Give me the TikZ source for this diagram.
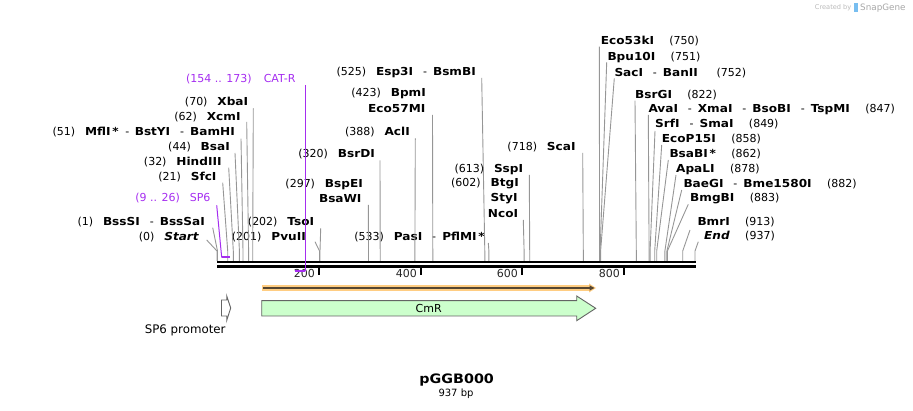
\documentclass[tikz,border=0pt]{standalone}
\usepackage{fontspec}
\setmainfont{DejaVu Sans}[BoldFeatures={FakeStretch=1.1},BoldItalicFeatures={FakeStretch=1.1}]
\usetikzlibrary{arrows.meta}
\definecolor{primer}{RGB}{165,45,240}
\definecolor{cutline}{RGB}{150,150,150}
\definecolor{cmrfill}{RGB}{204,255,204}
\definecolor{featedge}{RGB}{100,100,100}
\definecolor{orffill}{RGB}{255,205,130}
\definecolor{orfline}{RGB}{85,70,50}
\definecolor{wmark}{RGB}{185,185,185}
\definecolor{snaplogo}{RGB}{120,190,240}
\newcommand*{\enz}[1]{\textbf{#1}}
\newcommand*{\pgap}{\hspace{0.9em}}
\newcommand*{\rgap}{\hspace{1.4em}}
\newcommand*{\orsep}{\hspace{0.9em}-\hspace{0.55em}}

\begin{document}
\begin{tikzpicture}[x=1pt,y=-1pt,
  every node/.style={inner sep=0pt,font=\fontsize{11}{13}\selectfont},
  cut/.style={draw=cutline,line width=0.9pt},
  primerline/.style={draw=primer,line width=1pt},
  primerbar/.style={draw=primer,line width=2pt}]
\useasboundingbox (0,0) rectangle (913,411);

\node[anchor=east,font=\fontsize{6.6}{8}\selectfont,text=wmark] (made) at (851.5,8) {Created by};
\fill[snaplogo] (853.5,3.5) rectangle (857.5,12.5);
\node[anchor=west,font=\fontsize{8.8}{10}\selectfont,text=wmark!90!black] (snap) at (860,8) {SnapGene};

\draw[line width=2.3pt] (217,262.2) -- (696,262.2);
\draw[line width=2.3pt] (217,266.5) -- (696,266.5);

\draw[line width=1.3pt] (319,267.5) -- (319,275);
\draw[line width=1.3pt] (421,267.5) -- (421,275);
\draw[line width=1.3pt] (522,267.5) -- (522,275);
\draw[line width=1.3pt] (624,267.5) -- (624,275);
\node[anchor=east,text=black!85] (t200) at (315,273.3) {200};
\node[anchor=east,text=black!85] (t400) at (417,273.3) {400};
\node[anchor=east,text=black!85] (t600) at (518,273.3) {600};
\node[anchor=east,text=black!85] (t800) at (620,273.3) {800};

\coordinate (s0) at (217,261);
\coordinate (s1) at (217.5,261);
\coordinate (s21) at (227.7,261);
\coordinate (s32) at (233.3,261);
\coordinate (s44) at (239.4,261);
\coordinate (s51) at (243.0,261);
\coordinate (s62) at (248.6,261);
\coordinate (s70) at (252.7,261);
\coordinate (s201) at (319.5,261);
\coordinate (s202) at (320.0,261);
\coordinate (s297) at (368.5,261);
\coordinate (s320) at (380.2,261);
\coordinate (s388) at (414.9,261);
\coordinate (s423) at (432.8,261);
\coordinate (s525) at (484.8,261);
\coordinate (s533) at (488.9,261);
\coordinate (s602) at (524.1,261);
\coordinate (s613) at (529.7,261);
\coordinate (s718) at (583.3,261);
\coordinate (s750) at (599.6,261);
\coordinate (s751) at (600.1,261);
\coordinate (s752) at (600.6,261);
\coordinate (s822) at (636.3,261);
\coordinate (s847) at (649.1,261);
\coordinate (s849) at (650.1,261);
\coordinate (s858) at (654.7,261);
\coordinate (s862) at (656.7,261);
\coordinate (s878) at (664.9,261);
\coordinate (s882) at (666.9,261);
\coordinate (s883) at (667.4,261);
\coordinate (s913) at (682.7,261);
\coordinate (s937) at (695.0,261);
\coordinate (p9) at (221.7,257.5);
\coordinate (p26) at (229.5,257.5);
\coordinate (p154) at (295.0,270.7);
\coordinate (p173) at (305.3,270.7);

\node[anchor=east,text=primer] (catr) at (295.7,79) {(154 .. 173)\hspace{1.1em}CAT-R};
\node[anchor=east] (xbai) at (248.3,102.3) {(70)\pgap\enz{XbaI}};
\node[anchor=east] (xcmi) at (240.7,117) {(62)\pgap\enz{XcmI}};
\node[anchor=east] (mfli) at (235,131.7) {(51)\pgap\enz{MflI\,*}\hspace{0.6em}-\hspace{0.5em}\enz{BstYI}\orsep\enz{BamHI}};
\node[anchor=east] (bsai) at (230,147) {(44)\pgap\enz{BsaI}};
\node[anchor=east] (hindiii) at (221.7,161.7) {(32)\pgap\enz{HindIII}};
\node[anchor=east] (sfci) at (216.7,176.7) {(21)\pgap\enz{SfcI}};
\node[anchor=east,text=primer] (sp6) at (210.7,198.3) {(9 .. 26)\pgap SP6};
\node[anchor=east] (bsssi) at (205,222.3) {(1)\pgap\enz{BssSI}\orsep\enz{BssSaI}};
\node[anchor=east] (start) at (199.3,236.7) {(0)\pgap\textbf{\textit{Start}}};
\node[anchor=east] (tsoi) at (314.3,222.3) {(202)\pgap\enz{TsoI}};
\node[anchor=east] (pvuii) at (306,236.7) {(201)\pgap\enz{PvuII}};
\node[anchor=east] (bsrdi) at (375,154.3) {(320)\pgap\enz{BsrDI}};
\node[anchor=east] (bspei) at (363,184) {(297)\pgap\enz{BspEI}};
\node[anchor=east] (bsawi) at (361.7,198.3) {\enz{BsaWI}};
\node[anchor=east] (acli) at (410,131.7) {(388)\pgap\enz{AclI}};
\node[anchor=east] (bpmi) at (426,93.3) {(423)\pgap\enz{BpmI}};
\node[anchor=east] (eco57mi) at (425.5,109) {\enz{Eco57MI}};
\node[anchor=east] (esp3i) at (476,72.3) {(525)\pgap\enz{Esp3I}\orsep\enz{BsmBI}};
\node[anchor=east] (pasi) at (485,236.7) {(533)\pgap\enz{PasI}\orsep\enz{PflMI\,*}};
\node[anchor=east] (sspi) at (523.3,169) {(613)\pgap\enz{SspI}};
\node[anchor=east] (btgi) at (519,184) {(602)\pgap\enz{BtgI}};
\node[anchor=east] (styi) at (517.8,199) {\enz{StyI}};
\node[anchor=east] (ncoi) at (518.3,213.3) {\enz{NcoI}};
\node[anchor=east] (scai) at (575.7,147.3) {(718)\pgap\enz{ScaI}};

\node[anchor=west] (eco53ki) at (600.7,41) {\enz{Eco53kI}\rgap(750)};
\node[anchor=west] (bpu10i) at (607.3,57.3) {\enz{Bpu10I}\rgap(751)};
\node[anchor=west] (saci) at (614.3,72.7) {\enz{SacI}\orsep\enz{BanII}\hspace{1.7em}(752)};
\node[anchor=west] (bsrgi) at (635,95) {\enz{BsrGI}\rgap(822)};
\node[anchor=west] (avai) at (648.3,109.3) {\enz{AvaI}\orsep\enz{XmaI}\orsep\enz{BsoBI}\orsep\enz{TspMI}\rgap(847)};
\node[anchor=west] (srfi) at (655,124) {\enz{SrfI}\orsep\enz{SmaI}\rgap(849)};
\node[anchor=west] (ecop15i) at (661.7,139.3) {\enz{EcoP15I}\rgap(858)};
\node[anchor=west] (bsabi) at (669.3,154) {\enz{BsaBI\,*}\rgap(862)};
\node[anchor=west] (apali) at (676,169) {\enz{ApaLI}\rgap(878)};
\node[anchor=west] (baegi) at (683.3,184) {\enz{BaeGI}\orsep\enz{Bme1580I}\rgap(882)};
\node[anchor=west] (bmgbi) at (690,198.7) {\enz{BmgBI}\rgap(883)};
\node[anchor=west] (bmri) at (697.3,222) {\enz{BmrI}\rgap(913)};
\node[anchor=west] (endsite) at (704,236.3) {\textbf{\textit{End}}\rgap(937)};

\draw[cut] ([shift={(7.4,3.3)}]start.east) -- ([yshift=10pt]s0) -- (s0);
\draw[cut] ([shift={(7.7,5.4)}]bsssi.east) -- ([yshift=10pt]s1) -- (s1);
\draw[cut] ([shift={(6,6)}]sfci.east) -- ([yshift=10pt]s21) -- (s21);
\draw[cut] ([shift={(7,6)}]hindiii.east) -- ([yshift=10pt]s32) -- (s32);
\draw[cut] ([shift={(5,6)}]bsai.east) -- ([yshift=10pt]s44) -- (s44);
\draw[cut] ([shift={(6,7)}]mfli.east) -- ([yshift=10pt]s51) -- (s51);
\draw[cut] ([shift={(6,5)}]xcmi.east) -- ([yshift=10pt]s62) -- (s62);
\draw[cut] ([shift={(5,6)}]xbai.east) -- ([yshift=10pt]s70) -- (s70);
\draw[cut] ([shift={(9,5)}]pvuii.east) -- ([yshift=10pt]s201) -- (s201);
\draw[cut] ([shift={(6.4,6)}]tsoi.east) -- ([yshift=10pt]s202) -- (s202);
\draw[cut] ([shift={(6.6,6.7)}]bsawi.east) -- ([yshift=10pt]s297) -- (s297);
\draw[cut] ([shift={(5,6)}]bsrdi.east) -- ([yshift=10pt]s320) -- (s320);
\draw[cut] ([shift={(5.3,6.6)}]acli.east) -- ([yshift=10pt]s388) -- (s388);
\draw[cut] ([shift={(7,6)}]eco57mi.east) -- ([yshift=10pt]s423) -- (s423);
\draw[cut] ([shift={(5.7,5.7)}]esp3i.east) -- ([yshift=10pt]s525) -- (s525);
\draw[cut] ([shift={(3.3,6.3)}]pasi.east) -- ([yshift=10pt]s533) -- (s533);
\draw[cut] ([shift={(5,6.7)}]ncoi.east) -- ([yshift=10pt]s602) -- (s602);
\draw[cut] ([shift={(6,6)}]sspi.east) -- ([yshift=10pt]s613) -- (s613);
\draw[cut] ([shift={(7,5.7)}]scai.east) -- ([yshift=10pt]s718) -- (s718);
\draw[cut] ([shift={(-1.4,5.7)}]eco53ki.west) -- ([yshift=10pt]s750) -- (s750);
\draw[cut] ([shift={(-0.6,5)}]bpu10i.west) -- ([yshift=10pt]s751) -- (s751);
\draw[cut] ([shift={(0,5.6)}]saci.west) -- ([yshift=10pt]s752) -- (s752);
\draw[cut] ([shift={(0,5.7)}]bsrgi.west) -- ([yshift=10pt]s822) -- (s822);
\draw[cut] ([shift={(0,5.7)}]avai.west) -- ([yshift=10pt]s847) -- (s847);
\draw[cut] ([shift={(0,7)}]srfi.west) -- ([yshift=10pt]s849) -- (s849);
\draw[cut] ([shift={(0,5.7)}]ecop15i.west) -- ([yshift=10pt]s858) -- (s858);
\draw[cut] ([shift={(-1,6)}]bsabi.west) -- ([yshift=10pt]s862) -- (s862);
\draw[cut] ([shift={(0,6)}]apali.west) -- ([yshift=10pt]s878) -- (s878);
\draw[cut] ([shift={(-1.6,6)}]baegi.west) -- ([yshift=10pt]s882) -- (s882);
\draw[cut] ([shift={(-1.7,5.6)}]bmgbi.west) -- ([yshift=10pt]s883) -- (s883);
\draw[cut] ([shift={(-7.3,8)}]bmri.west) -- ([yshift=10pt]s913) -- (s913);
\draw[cut] ([shift={(-5.7,5.4)}]endsite.west) -- ([yshift=10pt]s937) -- (s937);

\draw[primerline] ([shift={(6,7)}]sp6.east) -- (p9);
\draw[primerbar] (p9) -- (p26);
\draw[primerline] ([yshift=-6pt]catr.east -| p173) -- (p173);
\draw[primerbar] (p173) -- (p154);

\fill[orffill] (261.7,285.3) rectangle (591,290.7);
\fill[orffill] (589,283.5) -- (596,288) -- (589,292.5) -- cycle;
\draw[orfline,line width=1.5pt,-{Triangle[length=5pt,width=5pt]}] (263,288) -- (594.5,288);

\draw[featedge,fill=cmrfill,line width=0.9pt] (261.7,300.7) -- (576.7,300.7) -- (576.7,296) -- (595.7,308.3)
  -- (576.7,320.7) -- (576.7,316) -- (261.7,316) -- cycle;
\node (cmr) at (428.7,308.3) {CmR};

\draw[featedge,fill=white,line width=0.9pt] (221.5,300) -- (226.7,300) -- (226.7,296) -- (230.7,308)
  -- (226.7,320.5) -- (226.7,316) -- (221.5,316) -- cycle;
\node[anchor=east,font=\fontsize{11.8}{14}\selectfont] (sp6prom) at (225.7,330) {SP6 promoter};

\node[font=\fontsize{13}{15}\selectfont\bfseries] (name) at (456.7,380.5) {pGGB000};
\node[font=\fontsize{10}{12}\selectfont] (size) at (456,394) {937 bp};
\end{tikzpicture}
\end{document}
